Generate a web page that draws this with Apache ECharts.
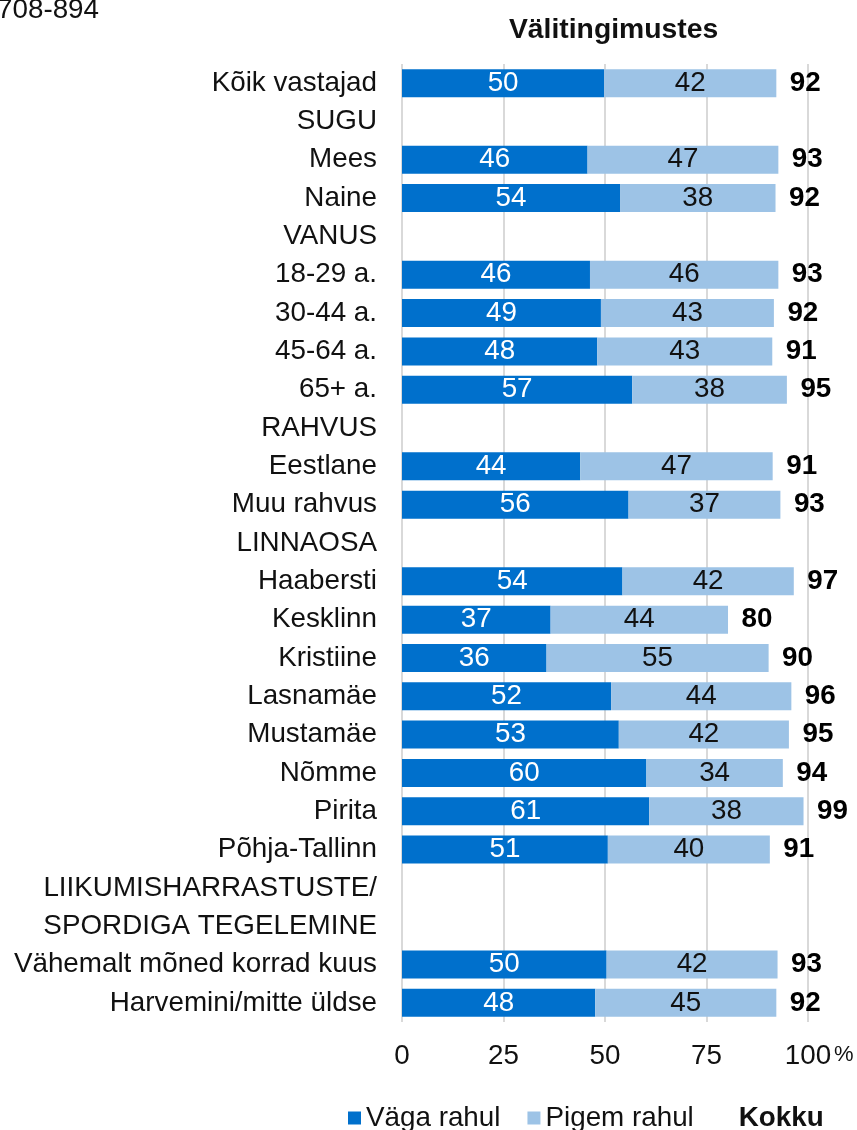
<!DOCTYPE html>
<html>
<head>
<meta charset="utf-8">
<script src="https://cdn.jsdelivr.net/npm/echarts@6/dist/echarts.min.js"></script>
<style>
  html, body { margin: 0; padding: 0; background: #fff; }
  #chart { width: 857px; height: 1130px; }
</style>
</head>
<body>
<div id="chart"></div>
<script>
const categories = [
  'Kõik vastajad', 'SUGU', 'Mees', 'Naine', 'VANUS', '18-29 a.', '30-44 a.', '45-64 a.', '65+ a.',
  'RAHVUS', 'Eestlane', 'Muu rahvus', 'LINNAOSA', 'Haabersti', 'Kesklinn', 'Kristiine', 'Lasnamäe',
  'Mustamäe', 'Nõmme', 'Pirita', 'Põhja-Tallinn', 'LIIKUMISHARRASTUSTE/', 'SPORDIGA TEGELEMINE',
  'Vähemalt mõned korrad kuus', 'Harvemini/mitte üldse'
];
// '-' = group header row, no bar
const vagaRahul = [49.8, '-', 45.7, 53.7, '-', 46.3, 49.0, 48.1, 56.7, '-', 43.9, 55.8, '-',
  54.3, 36.6, 35.6, 51.5, 53.4, 60.2, 60.9, 50.7, '-', '-', 50.4, 47.6];
const pigemRahul = [42.4, '-', 47.0, 38.3, '-', 46.4, 42.6, 43.1, 38.1, '-', 47.4, 37.4, '-',
  42.2, 43.7, 54.7, 44.4, 41.9, 33.6, 38.0, 39.9, '-', '-', 42.1, 44.6];
const kokku = [92, '-', 93, 92, '-', 93, 92, 91, 95, '-', 91, 93, '-',
  97, 80, 90, 96, 95, 94, 99, 91, '-', '-', 93, 92];
const xTicks = [0, 25, 50, 75, 100];

const FONT = 'Liberation Sans, Arial, sans-serif';
const FS = 27.8;

const chart = echarts.init(document.getElementById('chart'));

const totals = vagaRahul.map((v, i) => v === '-' ? '-' : v + pigemRahul[i]);

const option = {
  animation: false,
  backgroundColor: '#fff',
  textStyle: { fontFamily: FONT },
  title: {
    text: 'Välitingimustes',
    left: 504,
    top: 11,
    textStyle: { fontSize: 28.3, fontWeight: 'bold', color: '#111', fontFamily: FONT }
  },
  graphic: [
    {
      type: 'text', left: -3, top: -4,
      style: { text: '708-894', fontSize: FS, fill: '#111', fontFamily: FONT }
    },
    {
      type: 'text', left: 834, top: 1044,
      style: { text: '%', fontSize: 22, fill: '#111', fontFamily: FONT }
    }
  ],
  legend: {
    left: 343,
    top: 1099,
    icon: 'rect',
    itemWidth: 13,
    itemHeight: 13,
    itemGap: 27,
    textStyle: { fontSize: FS, color: '#111', fontFamily: FONT },
    data: [
      { name: 'Väga rahul' },
      { name: 'Pigem rahul' },
      { name: 'Kokku', textStyle: { fontWeight: 'bold' } }
    ]
  },
  grid: { left: 402, right: 49, top: 64, bottom: 108, containLabel: false },
  xAxis: {
    type: 'value',
    min: 0,
    max: 100,
    interval: 25,
    axisLine: { show: false },
    axisTick: { show: false },
    splitLine: { show: true, lineStyle: { color: '#d9d9d9', width: 2 } },
    axisLabel: {
      margin: 20,
      fontSize: FS,
      color: '#111',
      fontFamily: FONT,
      formatter: v => xTicks.includes(v) ? String(v) : ''
    }
  },
  yAxis: {
    type: 'category',
    inverse: true,
    data: categories,
    axisLine: { show: false },
    axisTick: { show: false },
    axisLabel: { margin: 25, fontSize: FS, color: '#111', fontFamily: FONT }
  },
  series: [
    {
      name: 'Väga rahul',
      type: 'bar',
      stack: 'total',
      barWidth: 28,
      data: vagaRahul,
      itemStyle: { color: '#0070CC' },
      label: {
        show: true, position: 'inside', color: '#fff', fontSize: FS, fontFamily: FONT,
        formatter: p => Math.round(p.value)
      }
    },
    {
      name: 'Pigem rahul',
      type: 'bar',
      stack: 'total',
      barWidth: 28,
      data: pigemRahul,
      itemStyle: { color: '#9DC3E6' },
      label: {
        show: true, position: 'inside', color: '#111', fontSize: FS, fontFamily: FONT,
        formatter: p => Math.round(p.value)
      }
    },
    {
      name: 'Kokku',
      type: 'scatter',
      symbolSize: 1,
      data: totals,
      itemStyle: { color: 'rgba(0,0,0,0)', opacity: 1 },
      label: {
        show: true, position: 'right', distance: 13, color: '#000', fontSize: FS,
        fontWeight: 'bold', fontFamily: FONT, opacity: 1,
        formatter: p => kokku[p.dataIndex]
      }
    }
  ]
};

chart.setOption(option);
</script>
</body>
</html>
